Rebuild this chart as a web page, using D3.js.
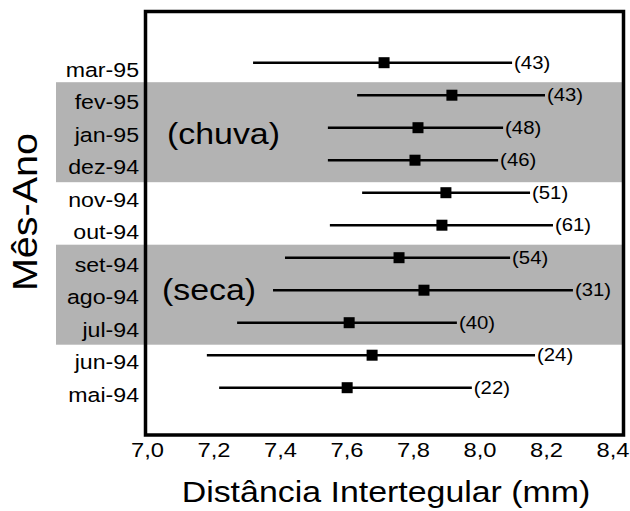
<!DOCTYPE html>
<html>
<head>
<meta charset="utf-8">
<script src="https://cdn.jsdelivr.net/npm/d3@7"></script>
<style>
  html, body { margin: 0; padding: 0; background: #fff; }
  svg { display: block; }
  text { font-family: "Liberation Sans", Arial, Helvetica, sans-serif; fill: #000; }
</style>
</head>
<body>
<svg id="chart" width="630" height="511"></svg>
<script>
// ---- data ----
const months = ["mar-95","fev-95","jan-95","dez-94","nov-94","out-94","set-94","ago-94","jul-94","jun-94","mai-94"];
const means  = [7.713, 7.917, 7.815, 7.806, 7.899, 7.887, 7.758, 7.833, 7.608, 7.677, 7.602];
const lows   = [7.319, 7.632, 7.544, 7.544, 7.647, 7.550, 7.415, 7.379, 7.271, 7.180, 7.217];
const highs  = [8.098, 8.197, 8.071, 8.056, 8.152, 8.221, 8.092, 8.281, 7.932, 8.167, 7.977];
const counts = [43, 43, 48, 46, 51, 61, 54, 31, 40, 24, 22];
const xTicks = [7.0, 7.2, 7.4, 7.6, 7.8, 8.0, 8.2, 8.4];
const seasons = [
  { label: "(chuva)", from: "fev-95", to: "dez-94" },
  { label: "(seca)",  from: "set-94", to: "jul-94" }
];
const xTitle = "Distância Intertegular (mm)";
const yTitle = "Mês-Ano";

// ---- layout ----
const svg = d3.select("#chart");
const frame = { left: 145.5, top: 11.5, right: 623.5, bottom: 435 };
const SX = 1.13; // horizontal glyph stretch seen in the reference font

const x = d3.scaleLinear().domain([7.0, 8.4]).range([147, 612.5]);
const y = d3.scalePoint().domain(months).range([62.7, 387.7]);

const rows = months.map((m, i) => ({ m, mean: means[i], lo: lows[i], hi: highs[i], n: counts[i] }));

// season bands
svg.append("g").selectAll("rect").data(seasons).join("rect")
  .attr("x", 56)
  .attr("y", d => y(d.from) - 13)
  .attr("width", frame.right - 56)
  .attr("height", d => y(d.to) + 22 - (y(d.from) - 13))
  .attr("fill", "#b3b3b3");

// season labels
const seasonPos = { "(chuva)": [167, 144], "(seca)": [162, 300] };
svg.append("g").selectAll("text").data(seasons).join("text")
  .attr("transform", d => `translate(${seasonPos[d.label][0]},${seasonPos[d.label][1]}) scale(${SX},1)`)
  .attr("font-size", 30)
  .text(d => d.label);

// error bars
const g = svg.append("g");
g.selectAll("line.bar").data(rows).join("line")
  .attr("class", "bar")
  .attr("x1", d => x(d.lo)).attr("x2", d => x(d.hi))
  .attr("y1", d => y(d.m)).attr("y2", d => y(d.m))
  .attr("stroke", "#000").attr("stroke-width", 2.6);

const ms = 11;
g.selectAll("rect.mk").data(rows).join("rect")
  .attr("class", "mk")
  .attr("x", d => x(d.mean) - ms / 2)
  .attr("y", d => y(d.m) - ms / 2)
  .attr("width", ms).attr("height", ms)
  .attr("fill", "#000");

g.selectAll("text.n").data(rows).join("text")
  .attr("class", "n")
  .attr("transform", d => `translate(${x(d.hi) + 2},${y(d.m) + 6}) scale(${SX},1)`)
  .attr("font-size", 18)
  .text(d => `(${d.n})`);

// frame
svg.append("rect")
  .attr("x", frame.left).attr("y", frame.top)
  .attr("width", frame.right - frame.left).attr("height", frame.bottom - frame.top)
  .attr("fill", "none").attr("stroke", "#000").attr("stroke-width", 3.5);

// x axis
const fmt = d => d3.format(".1f")(d).replace(".", ",");
const xAxis = svg.append("g")
  .attr("transform", `translate(0,${frame.bottom})`)
  .call(d3.axisBottom(x).tickValues(xTicks).tickFormat(fmt).tickSize(0).tickPadding(0));
xAxis.select(".domain").remove();
xAxis.selectAll("text")
  .attr("y", 22).attr("dy", 0)
  .attr("transform", `scale(${SX},1)`)
  .attr("font-size", 21)
  .attr("font-family", "Liberation Sans, Arial, sans-serif")
  .attr("fill", "#000");

// y axis (labels sit slightly below the rows as in the reference)
const yAxis = svg.append("g")
  .attr("transform", `translate(${frame.left},0)`)
  .call(d3.axisLeft(y).tickSize(0).tickPadding(0));
yAxis.select(".domain").remove();
yAxis.selectAll("text")
  .attr("x", -6.5 / SX).attr("dy", 0).attr("y", 13.5)
  .attr("transform", `scale(${SX},1)`)
  .attr("font-size", 20.5)
  .attr("font-family", "Liberation Sans, Arial, sans-serif")
  .attr("fill", "#000");

// titles
svg.append("text")
  .attr("transform", `translate(386,502) scale(${SX},1)`)
  .attr("text-anchor", "middle")
  .attr("font-size", 30)
  .text(xTitle);

svg.append("text")
  .attr("transform", `translate(37,212) rotate(-90) scale(${SX},1)`)
  .attr("text-anchor", "middle")
  .attr("font-size", 35)
  .text(yTitle);
</script>
</body>
</html>
